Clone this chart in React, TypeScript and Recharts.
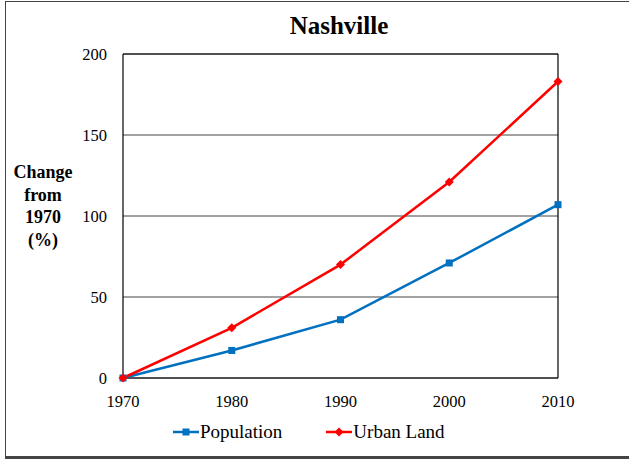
import React from "react"
import { LineChart, Line, XAxis, YAxis, CartesianGrid, ReferenceLine } from "recharts"

const years = [1970, 1980, 1990, 2000, 2010]
const population = [0, 17, 36, 71, 107]
const urbanLand = [0, 31, 70, 121, 183]
const yTicks = [0, 50, 100, 150, 200]

const data = years.map((y, i) => ({ year: y, population: population[i], urban: urbanLand[i] }))

const FONT = "Times New Roman, Liberation Serif, serif"

function SquareDot(props: any) {
  const { cx, cy } = props
  if (cx == null || cy == null) return null
  return <rect x={cx - 3.5} y={cy - 3.5} width={7} height={7} fill="#0070C0" />
}

function DiamondDot(props: any) {
  const { cx, cy } = props
  if (cx == null || cy == null) return null
  return <polygon points={`${cx},${cy - 4.5} ${cx + 4.5},${cy} ${cx},${cy + 4.5} ${cx - 4.5},${cy}`} fill="#FF0000" />
}

function LegendBox() {
  const item = (label: string, color: string, shape: "sq" | "dia") => (
    <div style={{ display: "flex", alignItems: "center", marginRight: 44 }}>
      <svg width={26} height={12}>
        <line x1={0} y1={6} x2={26} y2={6} stroke={color} strokeWidth={2.5} />
        {shape === "sq" ? (
          <rect x={9.5} y={2.5} width={7} height={7} fill={color} />
        ) : (
          <polygon points="13,1.5 17.5,6 13,10.5 8.5,6" fill={color} />
        )}
      </svg>
      <span style={{ marginLeft: 1 }}>{label}</span>
    </div>
  )
  return (
    <div style={{ position: "absolute", left: 173, top: 421, display: "flex", fontFamily: FONT, fontSize: 19, color: "#000" }}>
      {item("Population", "#0070C0", "sq")}
      {item("Urban Land", "#FF0000", "dia")}
    </div>
  )
}

export default function App() {
  return (
    <div style={{ position: "absolute", left: 0, top: 0, width: 629, height: 459, background: "#fff", overflow: "hidden" }}>
      <div style={{ position: "absolute", left: 5, top: 1, width: 640, height: 454, border: "1px solid #444", borderBottomWidth: 3 }} />
      <div style={{ position: "absolute", left: 239, width: 200, top: 12, textAlign: "center", fontFamily: FONT, fontWeight: "bold", fontSize: 25 }}>
        Nashville
      </div>
      <div style={{ position: "absolute", left: 2, width: 82, top: 161, textAlign: "center", fontFamily: FONT, fontWeight: "bold", fontSize: 18, lineHeight: "22.7px" }}>
        Change<br />from<br />1970<br />(%)
      </div>
      <LineChart width={629} height={459} data={data} margin={{ top: 54, right: 71, bottom: 51, left: 63 }}>
        <CartesianGrid vertical={false} stroke="#444" />
        <XAxis
          dataKey="year"
          type="number"
          domain={[1970, 2010]}
          ticks={years}
          height={30}
          tickLine={false}
          axisLine={false}
          tickMargin={11}
          tick={{ fill: "#000", fontFamily: FONT, fontSize: 16.5 }}
        />
        <YAxis
          width={60}
          domain={[0, 200]}
          ticks={yTicks}
          tickLine={false}
          axisLine={false}
          tickMargin={10}
          tick={{ fill: "#000", fontFamily: FONT, fontSize: 16.5 }}
        />
        <ReferenceLine y={0} stroke="#000" strokeWidth={1.2} />
        <ReferenceLine y={200} stroke="#000" strokeWidth={1.2} />
        <ReferenceLine x={1970} stroke="#000" strokeWidth={1.2} />
        <ReferenceLine x={2010} stroke="#000" strokeWidth={1.2} />
        <Line dataKey="population" stroke="#0070C0" strokeWidth={2.5} dot={<SquareDot />} isAnimationActive={false} />
        <Line dataKey="urban" stroke="#FF0000" strokeWidth={2.5} dot={<DiamondDot />} isAnimationActive={false} />
      </LineChart>
      <LegendBox />
    </div>
  )
}
